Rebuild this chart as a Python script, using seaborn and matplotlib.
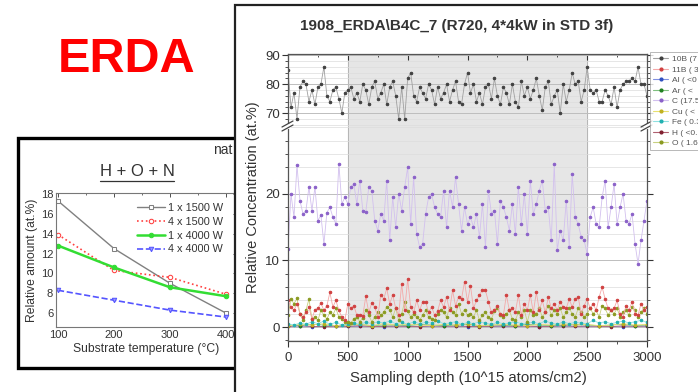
import numpy as np
import matplotlib
matplotlib.use('Agg')
import matplotlib.pyplot as plt
from matplotlib.patches import Rectangle
from matplotlib.lines import Line2D
from matplotlib.ticker import MultipleLocator
import seaborn as sns

# ── Inset data: H + O + N vs substrate temperature ─────────────
temps = [100, 200, 300, 400]
hon_1x1500 = [17.3, 12.5, 9.0, 6.0]
hon_4x1500 = [13.9, 10.3, 9.6, 7.9]
hon_1x4000 = [12.8, 10.6, 8.6, 7.7]
hon_4x4000 = [8.3, 7.3, 6.3, 5.6]

# ── Main ERDA depth profile (at.%) ─────────────────────────────
depth_range = [0, 3000]
shade_range = [500, 2500]

b10_conc = [85, 72, 77, 68, 79, 81, 80, 74, 78, 73, 79, 80, 86, 76, 74, 78, 79, 75, 70, 77, 78,
            79, 75, 77, 74, 80, 78, 73, 79, 81, 75, 77, 80, 73, 79, 81, 76, 68, 79, 68, 82,
            84, 76, 74, 79, 77, 75, 80, 78, 73, 79, 75, 77, 80, 74, 78, 81, 74, 73, 80, 84,
            77, 80, 74, 77, 73, 79, 80, 75, 82, 76, 73, 79, 77, 73, 80, 74, 72, 81, 76, 79,
            75, 78, 82, 76, 71, 79, 81, 73, 76, 78, 70, 80, 74, 78, 84, 80, 81, 74, 78, 86,
            78, 77, 78, 74, 74, 78, 76, 73, 79, 72, 78, 80, 81, 81, 82, 81, 86, 80, 80, 76]

c_conc = [11.7, 20.0, 16.5, 24.3, 19.0, 17.0, 17.5, 21.0, 17.5, 21.0, 16.0, 16.8, 12.5, 17.2, 18.0, 16.5, 15.5, 24.5, 18.5, 19.5, 18.5,
          21.0, 21.5, 18.5, 22.0, 17.5, 17.3, 21.0, 20.5, 16.0, 14.5, 17.0, 16.0, 22.0, 13.0, 19.5, 15.0, 20.0, 17.5, 21.0, 24.0,
          15.5, 22.5, 14.0, 12.0, 12.5, 17.0, 19.5, 20.0, 18.0, 17.0, 16.5, 20.5, 15.0, 20.5, 18.0, 22.5, 18.5, 14.5, 18.0, 15.5,
          16.5, 15.0, 17.0, 13.5, 18.5, 12.0, 20.5, 17.0, 17.5, 12.5, 19.0, 18.0, 16.5, 14.5, 18.5, 14.0, 21.0, 15.5, 20.0, 14.0,
          22.0, 17.0, 18.5, 20.5, 22.0, 17.5, 18.0, 13.0, 24.5, 11.5, 14.5, 13.0, 19.0, 12.0, 23.0, 16.5, 15.5, 13.5, 13.0, 11.0,
          16.5, 18.0, 15.5, 15.0, 19.5, 22.0, 15.0, 18.0, 21.5, 15.5, 18.0, 20.0, 16.0, 15.5, 17.0, 12.5, 9.5, 13.0, 16.0, 19.0]

b11_conc = [4.0, 3.0, 2.5, 3.5, 2.0, 1.5, 2.2, 3.0, 1.2, 2.6, 2.8, 3.6, 2.5, 3.2, 5.2, 3.0, 4.0, 2.5, 1.5, 1.0, 3.5,
            2.8, 3.2, 1.8, 1.8, 1.7, 4.6, 2.2, 3.6, 3.0, 1.5, 4.8, 4.2, 5.8, 3.5, 4.8, 2.8, 1.8, 6.5, 2.5, 7.2,
            3.0, 2.2, 4.0, 2.5, 3.8, 3.8, 2.2, 3.0, 1.8, 2.4, 4.0, 3.0, 4.5, 2.5, 5.5, 3.2, 4.5, 4.2, 6.8, 3.8,
            6.2, 2.8, 4.0, 4.8, 5.6, 5.5, 3.8, 2.2, 2.6, 3.2, 2.0, 1.8, 4.8, 2.5, 2.8, 2.2, 4.8, 1.8, 3.5, 2.5,
            4.8, 2.2, 5.2, 2.5, 4.0, 2.2, 4.5, 2.8, 3.5, 2.5, 3.8, 3.0, 2.8, 4.2, 3.0, 4.2, 4.5, 2.0, 3.2, 4.2,
            2.8, 3.5, 2.5, 4.5, 6.0, 4.2, 2.8, 2.5, 2.8, 4.0, 2.0, 1.5, 3.2, 2.5, 3.8, 2.0, 1.8, 3.5, 2.5, 3.0]

o_conc = [1.8, 4.2, 3.5, 4.3, 2.0, 1.0, 2.5, 4.2, 1.2, 1.5, 1.0, 2.5, 1.8, 1.2, 2.2, 1.8, 2.8, 1.5, 1.2, 0.8, 0.8,
          0.6, 1.2, 1.5, 0.8, 1.4, 2.5, 1.8, 0.8, 1.5, 2.2, 1.8, 2.2, 3.0, 2.6, 1.5, 2.8, 1.0, 2.0, 3.8, 2.4,
          1.5, 2.0, 1.5, 1.0, 1.8, 2.5, 1.5, 1.2, 1.0, 2.0, 2.5, 2.2, 1.5, 2.8, 2.2, 1.8, 3.5, 2.0, 2.6, 1.8,
          2.0, 1.5, 2.5, 1.0, 1.8, 2.2, 1.5, 1.2, 2.4, 2.8, 1.8, 1.5, 2.0, 2.5, 1.2, 1.0, 2.2, 1.5, 2.5, 0.8,
          2.5, 1.8, 2.0, 2.8, 1.5, 2.2, 3.2, 1.8, 2.5, 2.0, 2.8, 1.5, 2.2, 2.8, 2.0, 1.5, 2.8, 2.2, 1.5, 2.0,
          2.8, 2.0, 2.5, 1.5, 3.2, 2.8, 1.8, 2.5, 2.0, 2.8, 1.5, 2.2, 2.5, 1.8, 3.0, 2.5, 1.5, 2.2, 2.8, 2.0]

fe_conc = [0.5, 0.3, 0.6, 0.4, 0.8, 0.5, 0.9, 0.4, 0.7, 0.3, 0.4,
           0.6, 0.4, 0.7, 0.5, 0.8, 0.6, 0.9, 0.5, 0.7, 0.4,
           0.8, 0.5, 0.7, 0.6, 0.9, 0.5, 0.6, 0.8, 0.4, 0.7,
           0.5, 0.8, 0.6, 0.4, 0.7, 0.5, 0.6, 0.8, 0.5, 0.6,
           0.7, 0.5, 0.9, 0.6, 0.4, 0.8, 0.5, 0.7, 0.6, 0.5,
           1.0, 0.6, 0.8, 0.5, 0.7, 0.9, 0.6, 0.8, 1.0, 0.7]

cu_conc = [0.2, 0.4, 0.3, 0.5, 0.2, 0.3, 0.4, 0.2, 0.5, 0.3, 0.4, 0.3, 0.2, 0.4, 0.3, 0.5,
           0.2, 0.3, 0.4, 0.3, 0.2, 0.4, 0.3, 0.5, 0.3, 0.4, 0.2, 0.3, 0.5, 0.3, 0.4]
ar_conc = [0.3, 0.2, 0.4, 0.3, 0.2, 0.3, 0.4, 0.2, 0.3, 0.3, 0.2, 0.4, 0.3, 0.2, 0.3, 0.4,
           0.2, 0.3, 0.3, 0.2, 0.4, 0.3, 0.2, 0.3, 0.4, 0.3, 0.2, 0.3, 0.4, 0.2, 0.3]
al_conc = [0.1, 0.15, 0.05, 0.1, 0.12, 0.08, 0.1, 0.15, 0.05, 0.1, 0.12, 0.08, 0.1, 0.15, 0.1, 0.05,
           0.1, 0.12, 0.08, 0.1, 0.15, 0.05, 0.1, 0.12, 0.1, 0.08, 0.15, 0.1, 0.05, 0.12, 0.1]
h_conc = [0.1, 0.2, 0.1, 0.05, 0.15, 0.1, 0.2, 0.05, 0.1, 0.15, 0.1, 0.05, 0.2, 0.1, 0.15, 0.1,
          0.05, 0.1, 0.2, 0.1, 0.15, 0.05, 0.1, 0.2, 0.1, 0.15, 0.1, 0.05, 0.2, 0.1, 0.15]

legend_labels = ['10B (7', '11B ( 3', 'Al ( <0', 'Ar ( <', 'C (17.5',
                 'Cu ( <', 'Fe ( 0.3', 'H ( <0.1', 'O ( 1.6']

# ── Styling ────────────────────────────────────────────────────
sns.set_theme(style='white')
plt.rcParams['font.family'] = ['Liberation Sans', 'DejaVu Sans']

W, H = 698, 392
fig = plt.figure(figsize=(W / 100, H / 100), dpi=100)
fig.patch.set_facecolor('white')


def fbox(x0, y0, x1, y1):
    # pixel box (top-left origin) -> figure fraction rect
    return [x0 / W, 1 - y1 / H, (x1 - x0) / W, (y1 - y0) / H]


fig.text(127 / W, 1 - 59 / H, 'ERDA', color='#ff0000', fontsize=35,
         fontweight='bold', ha='center', va='center', zorder=1)

# ============================================================
#  Left inset panel
# ============================================================
fig.add_artist(Rectangle((18 / W, 1 - 368 / H), 250 / W, 230 / H,
                         transform=fig.transFigure, facecolor='white',
                         edgecolor='black', lw=2.4, zorder=0.5))
fig.text(213 / W, 1 - 150 / H, 'nat', fontsize=10, color='#333333',
         ha='left', va='center', zorder=0.6)
t_hon = fig.text(137 / W, 1 - 172 / H, 'H + O + N', fontsize=12,
                 color='#333333', ha='center', va='center', zorder=0.6)

ax_in = fig.add_axes(fbox(56, 193, 237, 327))
ax_in.set_zorder(1)
inset_styles = [
    ('1 x 1500 W', hon_1x1500, '#808080', 's', '-', 1.0, 'white'),
    ('4 x 1500 W', hon_4x1500, '#ff4040', 'o', ':', 1.2, 'white'),
    ('1 x 4000 W', hon_1x4000, '#33dd33', 'o', '-', 1.8, '#33dd33'),
    ('4 x 4000 W', hon_4x4000, '#5555ff', 'v', '--', 1.2, '#9999ff'),
]
for name, vals, col, mk, ls, lw, fc in inset_styles:
    sns.lineplot(x=temps, y=vals, ax=ax_in, color=col, marker=mk, linestyle=ls,
                 lw=lw, markersize=3.2, mfc=fc, mec=col, label=name, legend=False)
ax_in.set_xlim(96.4, 419.6)
ax_in.set_ylim(4.6, 18.1)
ax_in.xaxis.set_major_locator(MultipleLocator(100))
ax_in.xaxis.set_minor_locator(MultipleLocator(50))
ax_in.yaxis.set_major_locator(MultipleLocator(2))
ax_in.yaxis.set_minor_locator(MultipleLocator(1))
ax_in.set_yticks([6, 8, 10, 12, 14, 16, 18])
ax_in.tick_params(which='both', direction='in', top=True, right=True,
                  labelsize=8, colors='#333333', pad=2)
ax_in.tick_params(which='major', length=3, width=0.6)
ax_in.tick_params(which='minor', length=1.5, width=0.5)
for sp in ax_in.spines.values():
    sp.set_color('#777777')
    sp.set_linewidth(0.8)
ax_in.set_xlabel('Substrate temperature (°C)', fontsize=8.7, color='#333333', labelpad=2)
ax_in.set_ylabel('Relative amount (at.%)', fontsize=8.7, color='#333333', labelpad=2)
ax_in.legend(loc='upper left', bbox_to_anchor=(137 / W, 1 - 203 / H),
             bbox_transform=fig.transFigure, frameon=False, fontsize=7.8,
             handlelength=2.6, handletextpad=0.3, labelspacing=0.35,
             borderaxespad=0, borderpad=0, labelcolor='#333333')

# ============================================================
#  Right panel: ERDA depth profile with broken y axis
# ============================================================
fig.add_artist(Rectangle((235 / W, -0.1), 0.8, 1.1 - 5 / H,
                         transform=fig.transFigure, facecolor='white',
                         edgecolor='#222222', lw=1.6, zorder=2))

ax_hi = fig.add_axes(fbox(288, 54, 647, 126))
ax_lo = fig.add_axes(fbox(288, 126, 647, 341))

# (label, values, line colour, marker colour)
series = [
    ('Al', al_conc, '#8090e0', '#3050c0'),
    ('H', h_conc, '#b06070', '#802030'),
    ('Ar', ar_conc, '#80c080', '#208020'),
    ('Cu', cu_conc, '#e8e070', '#c0b020'),
    ('Fe', fe_conc, '#90e0e0', '#20b0b0'),
    ('O', o_conc, '#c8d080', '#8a9a20'),
    ('11B', b11_conc, '#f4a8a8', '#d04040'),
    ('C', c_conc, '#d2c0ee', '#8a60c8'),
    ('10B', b10_conc, '#a0a0a0', '#404040'),
]
legend_order = ['10B', '11B', 'Al', 'Ar', 'C', 'Cu', 'Fe', 'H', 'O']

for ax in (ax_hi, ax_lo):
    ax.set_zorder(3)
    ax.set_facecolor('white')
    ax.axvspan(shade_range[0], shade_range[1], color='#e6e6e6', zorder=0)
    for xv in shade_range:
        ax.axvline(xv, color='#b5b5b5', lw=0.7, zorder=0.5)
    for name, vals, lc, mc in series:
        depth = np.linspace(depth_range[0], depth_range[1], len(vals))
        sns.lineplot(x=depth, y=vals, ax=ax, color=lc, lw=0.6, marker='o',
                     markersize=1.8, mfc=mc, mec=mc, legend=False, zorder=2)
    ax.set_xlim(depth_range)
    ax.xaxis.set_major_locator(MultipleLocator(500))
    ax.xaxis.set_minor_locator(MultipleLocator(250))
    ax.yaxis.set_major_locator(MultipleLocator(10))
    ax.yaxis.set_minor_locator(MultipleLocator(2))
    ax.yaxis.grid(True, which='minor', color='#dcdcdc', lw=0.5)
    ax.yaxis.grid(True, which='major', color='#bdbdbd', lw=0.7)
    ax.xaxis.grid(False)
    ax.set_axisbelow(True)
    for sp in ax.spines.values():
        sp.set_color('#555555')
        sp.set_linewidth(0.9)
    ax.tick_params(which='both', labelsize=9.5, colors='#333333', pad=2)
    ax.tick_params(which='major', length=4, width=0.8)
    ax.tick_params(which='minor', length=2, width=0.6)

ax_hi.set_ylim(65.5, 90.5)
ax_hi.spines['bottom'].set_visible(False)
ax_hi.tick_params(axis='x', which='both', bottom=False, labelbottom=False,
                  top=True, direction='in')
ax_hi.tick_params(axis='y', which='both', left=True, right=True)
ax_hi.tick_params(axis='y', which='both', direction='out')

ax_lo.set_ylim(-2.1, 30.2)
ax_lo.set_yticks([0, 10, 20])
ax_lo.yaxis.set_minor_locator(MultipleLocator(2))
ax_lo.spines['top'].set_visible(False)
ax_lo.tick_params(axis='x', which='both', bottom=True, direction='out', pad=4)
ax_lo.tick_params(axis='y', which='both', left=True, right=True, direction='out')

# break marks on the y axis
for xp in (288, 647):
    fig.add_artist(Rectangle(((xp - 3) / W, 1 - 129 / H), 6 / W, 5 / H,
                             transform=fig.transFigure, facecolor='white',
                             edgecolor='none', zorder=4))
    for dy in (-2, 2):
        fig.add_artist(Line2D([(xp - 6) / W, (xp + 5) / W],
                              [1 - (129 + dy) / H, 1 - (123 + dy) / H],
                              transform=fig.transFigure, color='#444444',
                              lw=0.9, zorder=4.1))

fig.text(457 / W, 1 - 26 / H, '1908_ERDA\\B4C_7 (R720, 4*4kW in STD 3f)',
         fontsize=11, fontweight='bold', color='#333333', ha='center',
         va='center', zorder=4)
fig.text(468 / W, 1 - 378 / H, 'Sampling depth (10^15 atoms/cm2)',
         fontsize=10.8, color='#333333', ha='center', va='center', zorder=4)
fig.text(253 / W, 1 - 197 / H, 'Relative Concentration (at.%)', rotation=90,
         fontsize=10.5, color='#333333', ha='center', va='center', zorder=4)

style_map = {name: (lc, mc) for name, vals, lc, mc in series}
handles = [Line2D([], [], color=style_map[n][0], lw=0.8, marker='o', markersize=2,
                  mfc=style_map[n][1], mec=style_map[n][1]) for n in legend_order]
leg = fig.legend(handles, legend_labels, loc='upper left',
                 bbox_to_anchor=(650 / W, 1 - 147 / H, 80 / W, 95 / H),
                 mode='expand', fontsize=6, frameon=True, fancybox=False,
                 handlelength=1.8, handletextpad=0.5, labelspacing=0.32,
                 borderpad=0.4, borderaxespad=0, labelcolor='#555555')
leg.get_frame().set_edgecolor('#999999')
leg.get_frame().set_linewidth(0.6)
leg.set_zorder(5)

# underline for the inset title
fig.canvas.draw()
bb = t_hon.get_window_extent().transformed(fig.transFigure.inverted())
fig.add_artist(Line2D([bb.x0, bb.x1], [bb.y0 - 1 / H, bb.y0 - 1 / H],
                      transform=fig.transFigure, color='#333333', lw=0.9, zorder=0.6))

plt.savefig('out.png', dpi=100)
plt.close()
